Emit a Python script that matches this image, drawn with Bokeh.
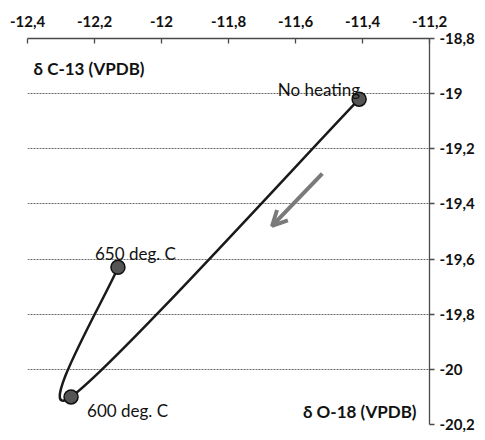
from bokeh.plotting import figure
from bokeh.models import Range1d, FixedTicker, Arrow, OpenHead, Label
from bokeh.embed import file_html
from bokeh.resources import INLINE

# ---- data ----
names = ["No heating", "600 deg. C", "650 deg. C"]
d18O = [-11.41, -12.27, -12.13]
d13C = [-19.02, -20.10, -19.63]

x_ticks = [-12.4, -12.2, -12.0, -11.8, -11.6, -11.4, -11.2]
x_tick_labels = ["-12,4", "-12,2", "-12", "-11,8", "-11,6", "-11,4", "-11,2"]
y_ticks = [-18.8, -19.0, -19.2, -19.4, -19.6, -19.8, -20.0, -20.2]
y_tick_labels = ["-18,8", "-19", "-19,2", "-19,4", "-19,6", "-19,8", "-20", "-20,2"]

arrow_x = [-11.52, -11.67]
arrow_y = [-19.29, -19.48]

FONT = "Lato"

p = figure(width=477, height=432, output_backend="svg", toolbar_location=None,
           x_range=Range1d(-12.4, -11.2), y_range=Range1d(-20.2, -18.8),
           x_axis_location="above", y_axis_location="right",
           min_border_left=27, min_border_right=46, min_border_top=38, min_border_bottom=8)
p.outline_line_color = None
p.background_fill_color = "white"
p.border_fill_color = "white"

# axes
xa = p.xaxis[0]
xa.ticker = FixedTicker(ticks=x_ticks)
xa.major_label_overrides = {t: l for t, l in zip(x_ticks, x_tick_labels)}
xa.major_tick_in = 5
xa.major_tick_out = 0
xa.minor_tick_in = 0
xa.minor_tick_out = 0
xa.major_label_standoff = 12

ya = p.yaxis[0]
ya.ticker = FixedTicker(ticks=y_ticks)
ya.major_label_overrides = {t: l for t, l in zip(y_ticks, y_tick_labels)}
ya.major_tick_in = 0
ya.major_tick_out = 5
ya.minor_tick_in = 0
ya.minor_tick_out = 0
ya.major_label_standoff = 5

for ax in (xa, ya):
    ax.axis_line_color = "#4a4a4a"
    ax.axis_line_width = 1.3
    ax.major_tick_line_color = "#4a4a4a"
    ax.major_tick_line_width = 1.3
    ax.major_label_text_font = FONT
    ax.major_label_text_font_style = "bold"
    ax.major_label_text_font_size = "15px"
    ax.major_label_text_color = "#111111"

p.xgrid.grid_line_color = None
p.ygrid.ticker = FixedTicker(ticks=y_ticks)
p.ygrid.grid_line_color = "#6a6a6a"
p.ygrid.grid_line_dash = "2 1"
p.ygrid.grid_line_width = 1

# smoothed line (Catmull-Rom style Bezier through the points)
n = len(d18O)
x0, y0, x1, y1, cx0, cy0, cx1, cy1 = [], [], [], [], [], [], [], []
for i in range(n - 1):
    ip = max(i - 1, 0)
    inx = min(i + 2, n - 1)
    x0.append(d18O[i]); y0.append(d13C[i])
    x1.append(d18O[i + 1]); y1.append(d13C[i + 1])
    cx0.append(d18O[i] + (d18O[i + 1] - d18O[ip]) / 6.0)
    cy0.append(d13C[i] + (d13C[i + 1] - d13C[ip]) / 6.0)
    cx1.append(d18O[i + 1] - (d18O[inx] - d18O[i]) / 6.0)
    cy1.append(d13C[i + 1] - (d13C[inx] - d13C[i]) / 6.0)
p.bezier(x0=x0, y0=y0, x1=x1, y1=y1, cx0=cx0, cy0=cy0, cx1=cx1, cy1=cy1,
         line_color="#1a1a1a", line_width=2.5)

p.scatter(d18O, d13C, size=14, fill_color="#555555", line_color="#111111", line_width=1.5)

# arrow
p.add_layout(Arrow(x_start=arrow_x[0], y_start=arrow_y[0], x_end=arrow_x[1], y_end=arrow_y[1],
                   line_color="#7a7a7a", line_width=4,
                   end=OpenHead(size=15, line_color="#7a7a7a", line_width=4)))

# point labels
offsets = {"No heating": ("right", 1, 10), "600 deg. C": ("left", 16, -14), "650 deg. C": ("left", -23, 14)}
for nm, xv, yv in zip(names, d18O, d13C):
    al, xo, yo = offsets[nm]
    p.add_layout(Label(x=xv, y=yv, text=nm, text_align=al, text_baseline="alphabetic",
                       x_offset=xo, y_offset=yo, text_font=FONT, text_font_size="17px",
                       text_color="#111111"))

# axis titles inside plot
p.add_layout(Label(x=-12.4, y=-18.8, x_offset=6, y_offset=-30, text="δ C-13 (VPDB)",
                   text_align="left", text_baseline="alphabetic", text_font=FONT,
                   text_font_style="bold", text_font_size="17px", text_color="#111111"))
p.add_layout(Label(x=-11.2, y=-20.2, x_offset=-13, y_offset=13, text="δ O-18 (VPDB)",
                   text_align="right", text_baseline="alphabetic", text_font=FONT,
                   text_font_style="bold", text_font_size="17px", text_color="#111111"))

open("out.html", "w").write(file_html(p, INLINE))
